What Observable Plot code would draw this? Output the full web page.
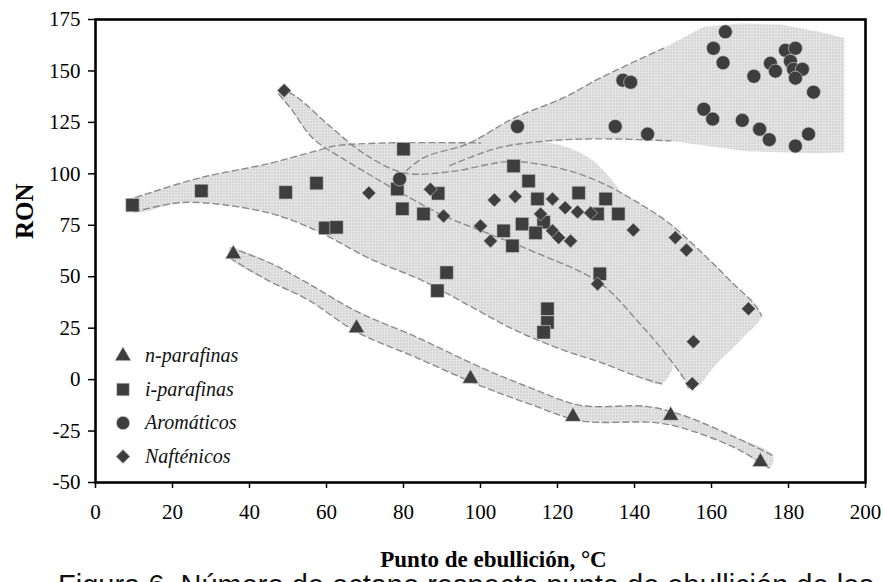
<!DOCTYPE html>
<html><head><meta charset="utf-8">
<script src="https://cdn.jsdelivr.net/npm/d3@7"></script>
<script src="https://cdn.jsdelivr.net/npm/@observablehq/plot@0.6"></script>
<style>
html,body{margin:0;padding:0;background:#fff;overflow:hidden;width:883px;height:582px}
#wrap{position:relative;width:883px;height:582px;overflow:hidden}
#wrap svg{display:block}
#caption{position:absolute;left:58px;top:570px;font-family:"Liberation Sans",Arial,sans-serif;font-size:29px;line-height:30px;white-space:nowrap;color:#111}
#legend{position:absolute;left:0;top:0}
</style></head><body><div id="wrap"></div>
<script>
// ---- ticks ----
const xTicks = [0, 20, 40, 60, 80, 100, 120, 140, 160, 180, 200];
const yTicks = [-50, -25, 0, 25, 50, 75, 100, 125, 150, 175];

// ---- series: [punto de ebullición °C, RON] ----
const nParafinas = [[35.8,61],[67.8,25],[97.4,0.5],[124,-18],[149.4,-17.5],[172.7,-40]];
const iParafinas = [[9.6,84.8],[27.5,91.7],[49.4,91],[57.4,95.5],[59.7,73.7],[62.6,74],[80,112],[78.4,92.6],
  [79.7,83],[85.2,80.5],[89,90.5],[108.6,103.8],[112.5,96.5],[125.5,90.7],[114.8,87.8],[132.5,87.8],[130.4,80.5],
  [135.8,80.5],[116.4,76.5],[110.8,75.6],[114.3,71.3],[106,72.3],[108.3,65],[91.2,52],[88.8,43.2],[131,51.4],
  [117.4,34.4],[117.4,27.8],[116.4,23]];
const aromaticos = [[79,97.5],[109.6,123],[135,123],[137,145.5],[139,144.5],[143.4,119.3],[158,131.4],[160.3,126.6],
  [160.5,161],[163,154],[163.6,169],[168,126],[171,147.4],[172.5,121.7],[175,116.6],[175.3,153.7],[176.6,149.9],
  [179.2,160],[181.8,161],[180.5,154.7],[181.3,150.8],[183.6,150.8],[181.8,146.5],[181.8,113.5],[185.2,119.3],[186.5,139.7]];
const naftenicos = [[49,140.5],[71,90.7],[87,92.5],[90.4,79.5],[103.6,87.3],[109,89],[118.7,87.8],[122,83.5],
  [125.2,81.5],[128.6,81],[115.6,80.5],[118.7,72.3],[120.3,69],[123.4,67.4],[100,74.7],[102.6,67.4],[139.7,72.7],
  [150.6,69],[153.5,63],[130.4,46.5],[169.6,34.4],[155.3,18.4],[155,-2]];

// ---- shaded bands (borders) ----
const bandNUpper = [[35,64],[45,57],[55,47],[68,33],[83,21],[100,6],[113,-4],[126,-12.5],[143,-13],[152,-17],[165,-27],[176,-37]];
const bandNLower = [[35,59],[45,48],[55,39],[68,23],[83,11],[100,-3],[113,-12],[126,-20],[146,-21],[155,-25],[167,-34],[175,-43]];
const bandIUpper = [[8,87],[12,89.5],[27,98],[45,105],[57,111],[62,113.5],[75,115],[100,115]];
const bandIRight = [[118,115],[128,108],[137,90],[146,60],[151,25],[150,6]];
const bandILower = [[10,81.5],[22,86],[33,85],[45,81],[53,76],[60,70],[71,59],[85,48],[97,36],[109,24],[122,14],[131,8.5],[140,2],[147,-2]];
const bandAUpper = [[77,95],[85,107.6],[96.6,114.5],[108.6,127],[121.6,137],[131,146.5],[147.5,161],[158,171.5],[167.5,173],[178,172.6],[188,169],[194.5,166]];
const bandALower = [[77,92],[84,97],[92,104],[104.4,112.5],[117.4,116],[131,117],[149.4,116],[169,111],[188,110],[194.5,110.5]];
const bandCOuter = [[48,142],[52.5,137],[61,123],[69.6,110],[80,100.5],[92,101],[108,106],[122,102],[131,96],[140,87],[149,76],[159,59],[166,46],[171,37],[173,31]];
const bandCTip = [[168,20],[161,7],[156,-4]];
const bandCInner = [[154,-4],[153,0],[146.8,15.5],[141,28],[131,47],[114,62],[102,71],[90,80],[82,88],[74,96.5],[65.5,106],[56.6,117],[50.6,132],[47.5,139]];

const polyN = bandNUpper.concat(bandNLower.slice().reverse());
const polyI = bandIUpper.concat(bandIRight, bandILower.slice().reverse());
const polyA = bandAUpper.concat(bandALower.slice().reverse());
const polyC = bandCOuter.concat(bandCTip, bandCInner);

const X = d => d[0], Y = d => d[1];
const serif = '"Liberation Serif","Times New Roman",serif';
const dashStyle = {x: X, y: Y, stroke: "#8c8c8c", strokeWidth: 1.4, strokeDasharray: "6,4", curve: "catmull-rom"};
const fillStyle = {x: X, y: Y, fill: "url(#stip)", stroke: "none", curve: "catmull-rom-closed"};
const markerFill = "#3e3e3e", markerStroke = "#d8d8d8";

const chart = Plot.plot({
  width: 883, height: 582,
  marginLeft: 95, marginRight: 18, marginTop: 19, marginBottom: 100,
  style: {fontFamily: serif, background: "#fff", overflow: "visible"},
  x: {domain: [0, 200]},
  y: {domain: [-50, 175]},
  marks: [
    Plot.line(polyN, fillStyle),
    Plot.line(polyI, fillStyle),
    Plot.line(polyC, fillStyle),
    Plot.line(polyA, {...fillStyle, curve: "linear-closed"}),
    Plot.line(bandNUpper, dashStyle),
    Plot.line(bandNLower, dashStyle),
    Plot.line(bandIUpper, dashStyle),
    Plot.line(bandILower, dashStyle),
    Plot.line(bandAUpper.slice(0, 7), dashStyle),
    Plot.line(bandALower.slice(2, 7), dashStyle),
    Plot.line(bandCOuter, dashStyle),
    Plot.line(bandCInner, dashStyle),
    Plot.dot(nParafinas, {x: X, y: Y, symbol: "triangle", r: 6, fill: markerFill, stroke: markerStroke, strokeWidth: 0.6}),
    Plot.dot(iParafinas, {x: X, y: Y, symbol: "square", r: 7.6, fill: markerFill, stroke: markerStroke, strokeWidth: 0.6}),
    Plot.dot(aromaticos, {x: X, y: Y, symbol: "circle", r: 7, fill: markerFill, stroke: markerStroke, strokeWidth: 0.6}),
    Plot.dot(naftenicos, {x: X, y: Y, symbol: "diamond2", r: 6.3, fill: markerFill, stroke: markerStroke, strokeWidth: 0.6}),
    Plot.axisY(yTicks, {tickSize: 7, tickPadding: 8, tickFormat: d => String(d), fontSize: 21, fontFamily: serif, strokeWidth: 1.5, label: null}),
    Plot.axisX(xTicks, {tickSize: 6, tickPadding: 16, tickFormat: d => String(d), fontSize: 21, fontFamily: serif, strokeWidth: 1.5, label: null}),
    Plot.text(["RON"], {frameAnchor: "left", text: d => d, rotate: -90, dx: -71, dy: -12, fontSize: 25, fontWeight: "bold", fontFamily: serif, fill: "#000"}),
    Plot.text(["Punto de ebullición, °C"], {frameAnchor: "bottom", text: d => d, dx: 13, dy: 84, fontSize: 23, fontWeight: "bold", fontFamily: serif, fill: "#000"}),
    Plot.frame({stroke: "#000", strokeWidth: 2.6})
  ]
});

// stipple pattern for the bands
const defs = d3.select(chart).insert("defs", ":first-child");
const pat = defs.append("pattern").attr("id", "stip").attr("patternUnits", "userSpaceOnUse").attr("width", 3).attr("height", 3);
pat.append("rect").attr("width", 3).attr("height", 3).attr("fill", "#ececec");
pat.append("circle").attr("cx", 1.5).attr("cy", 1.5).attr("r", 0.95).attr("fill", "#c0c0c0");

const wrap = document.getElementById("wrap");
wrap.appendChild(chart);

// legend (inside plot, bottom-left)
const legendItems = [
  {label: "n-parafinas", sym: d3.symbolTriangle, size: 113},
  {label: "i-parafinas", sym: d3.symbolSquare, size: 160},
  {label: "Aromáticos", sym: d3.symbolCircle, size: 140},
  {label: "Nafténicos", sym: d3.symbolDiamond2, size: 125}
];
const leg = d3.select(wrap).append("svg").attr("id", "legend").attr("width", 883).attr("height", 582);
const rows = leg.selectAll("g").data(legendItems).join("g")
  .attr("transform", (d, i) => `translate(123,${356 + i * 33.5})`);
rows.append("path").attr("d", d => d3.symbol(d.sym, d.size)()).attr("fill", markerFill).attr("stroke", markerStroke).attr("stroke-width", 0.6);
rows.append("text").attr("x", 22).attr("dy", "0.32em").attr("font-family", serif).attr("font-style", "italic")
  .attr("font-size", 20).attr("fill", "#111").text(d => d.label);

const cap = document.createElement("div");
cap.id = "caption";
cap.textContent = "Figura 6. Número de octano respecto punto de ebullición de los";
wrap.appendChild(cap);
</script></body></html>
